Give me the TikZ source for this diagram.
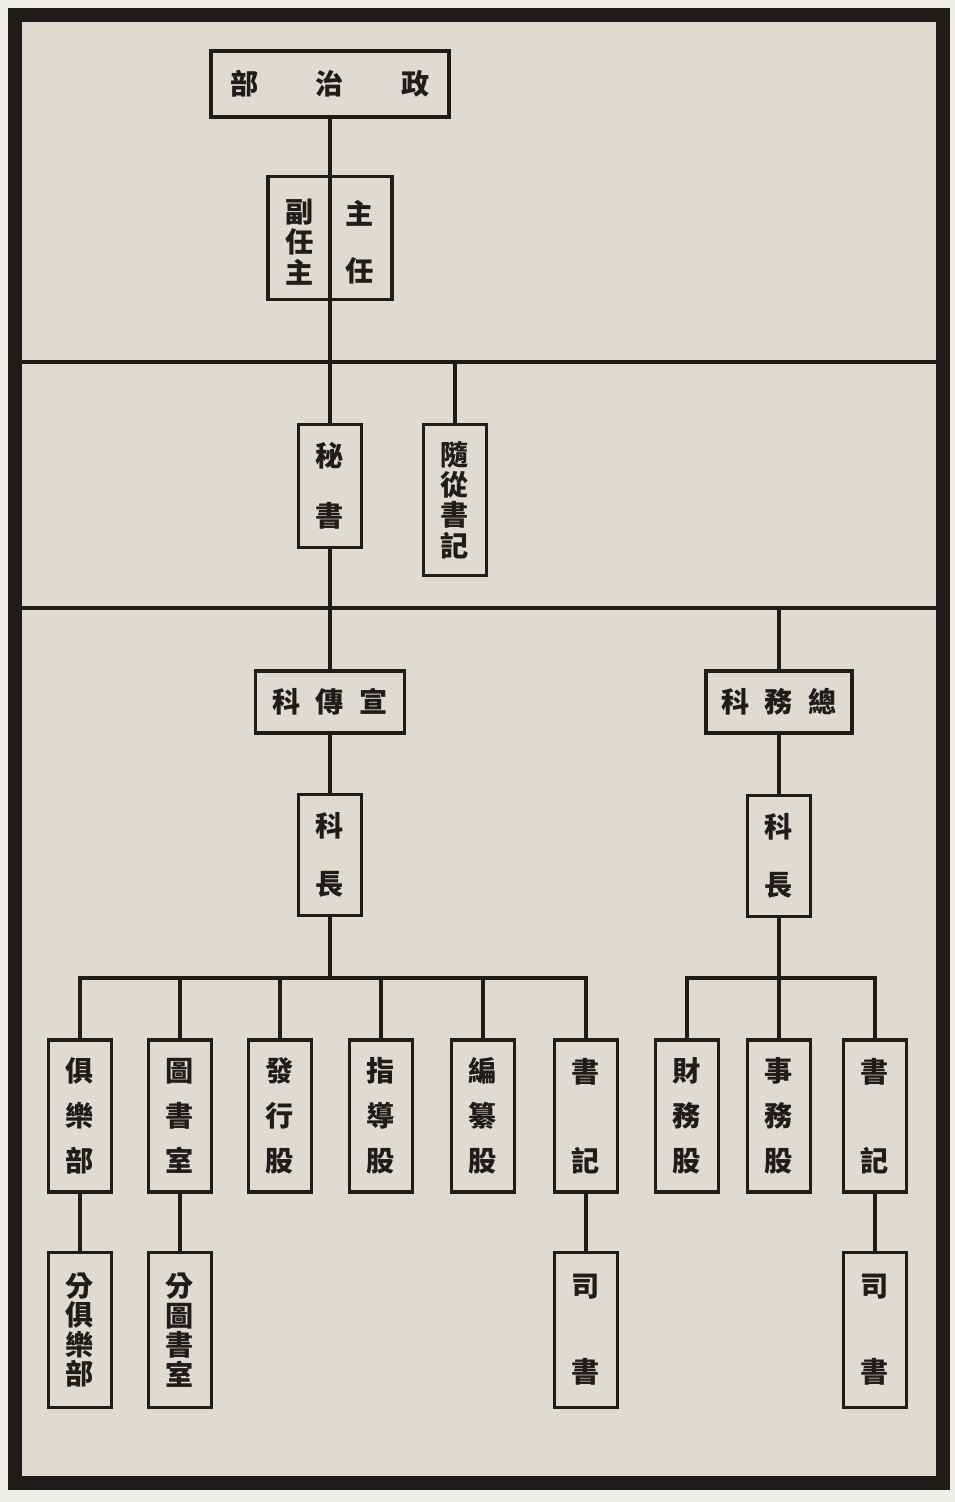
\documentclass[tikz,border=0pt]{standalone}
\usepackage{fontspec}
\newfontfamily\cjk{Noto Sans CJK TC}
\definecolor{paper}{RGB}{224,219,208}
\definecolor{margin}{RGB}{240,238,233}
\definecolor{ink}{RGB}{32,28,26}

\begin{document}
\begin{tikzpicture}[x=0.025cm,y=-0.025cm,
    office/.style={draw=ink,line width=2.4pt,inner sep=0pt,align=center,text=ink},
    column/.style={office,minimum width=1.575cm},
    words/.style={inner sep=0pt,align=center,text=ink},
    leading/.style={font=\cjk\bfseries\fontsize{20pt}{#1}\selectfont},
    link/.style={draw=ink,line width=2.4pt,line cap=rect}]
    % paper and frame
    \useasboundingbox (0,0) rectangle (955,1502);
    \fill[margin] (0,0) rectangle (955,1502);
    \fill[paper] (15,15) rectangle (943,1483);
    \draw[ink,line width=10pt] (15,15) rectangle (943,1483);
    \coordinate (ruleAw) at (22,362);
    \coordinate (ruleAe) at (937,362);
    \coordinate (ruleBw) at (22,608);
    \coordinate (ruleBe) at (937,608);
    \draw[link,line cap=butt] (ruleAw) -- (ruleAe);
    \draw[link,line cap=butt] (ruleBw) -- (ruleBe);

    \node[office,leading=20pt,minimum width=5.95cm,minimum height=1.65cm] (zhengzhi) at (330,84) {部\hspace{41pt}治\hspace{41pt}政};
    \node[office,minimum width=3.1cm,minimum height=3.075cm] (zhuren) at (330,238) {};
    \node[words,leading=21.5pt] (fuzhuren) at (300,242) {副\\任\\主};
    \node[words,leading=40.5pt] (zhurenT) at (360,242) {主\\任};
    \draw[link,line cap=butt] (zhuren.north) -- (zhuren.south);

    \node[column,leading=43pt,minimum height=3.075cm] (mishu) at (330,486) {秘\\書};
    \node[column,leading=21.5pt,minimum height=3.775cm] (suicong) at (455,500) {隨\\從\\書\\記};

    \node[office,leading=20pt,minimum width=3.725cm,minimum height=1.55cm] (xuanchuan) at (330,702) {科\hspace{11pt}傳\hspace{11pt}宣};
    \node[office,leading=20pt,minimum width=3.65cm,minimum height=1.55cm] (zongwu) at (779,702) {科\hspace{11pt}務\hspace{11pt}總};
    \node[column,leading=41pt,minimum height=3.025cm] (kezhangL) at (330,855) {科\\長};
    \node[column,leading=41pt,minimum height=3.025cm] (kezhangR) at (779,856) {科\\長};

    \node[column,leading=32pt,minimum height=3.8cm] (julebu) at (80,1116) {俱\\樂\\部};
    \node[column,leading=32pt,minimum height=3.8cm] (tushu) at (180,1116) {圖\\書\\室};
    \node[column,leading=32pt,minimum height=3.8cm] (faxing) at (280,1116) {發\\行\\股};
    \node[column,leading=32pt,minimum height=3.8cm] (zhidao) at (381,1116) {指\\導\\股};
    \node[column,leading=32pt,minimum height=3.8cm] (bianzuan) at (483,1116) {編\\纂\\股};
    \node[column,leading=63pt,minimum height=3.8cm] (shujiL) at (586,1116) {書\\記};
    \node[column,leading=32pt,minimum height=3.8cm] (caiwu) at (687,1116) {財\\務\\股};
    \node[column,leading=32pt,minimum height=3.8cm] (shiwu) at (779,1116) {事\\務\\股};
    \node[column,leading=63pt,minimum height=3.8cm] (shujiR) at (875,1116) {書\\記};

    \node[column,leading=21pt,minimum height=3.875cm] (fenjulebu) at (80,1330) {分\\俱\\樂\\部};
    \node[column,leading=21pt,minimum height=3.875cm] (fentushu) at (180,1330) {分\\圖\\書\\室};
    \node[column,leading=61pt,minimum height=3.875cm] (sishuL) at (586,1330) {司\\書};
    \node[column,leading=61pt,minimum height=3.875cm] (sishuR) at (875,1330) {司\\書};

    \coordinate (barL) at (330,978);
    \coordinate (barR) at (779,978);
    \draw[link] (zhengzhi) -- (zhuren) -- (mishu) -- (xuanchuan) -- (kezhangL) -- (barL);
    \draw[link] (suicong) -- (suicong |- ruleAw);
    \draw[link] (zongwu |- ruleBw) -- (zongwu) -- (kezhangR) -- (barR);
    \draw[link] (julebu |- barL) -- (shujiL |- barL);
    \draw[link] (caiwu |- barR) -- (shujiR |- barR);
    \foreach \n in {julebu,tushu,faxing,zhidao,bianzuan,shujiL}
        \draw[link] (\n) -- (\n |- barL);
    \foreach \n in {caiwu,shiwu,shujiR}
        \draw[link] (\n) -- (\n |- barR);
    \draw[link] (julebu) -- (fenjulebu);
    \draw[link] (tushu) -- (fentushu);
    \draw[link] (shujiL) -- (sishuL);
    \draw[link] (shujiR) -- (sishuR);
\end{tikzpicture}
\end{document}
